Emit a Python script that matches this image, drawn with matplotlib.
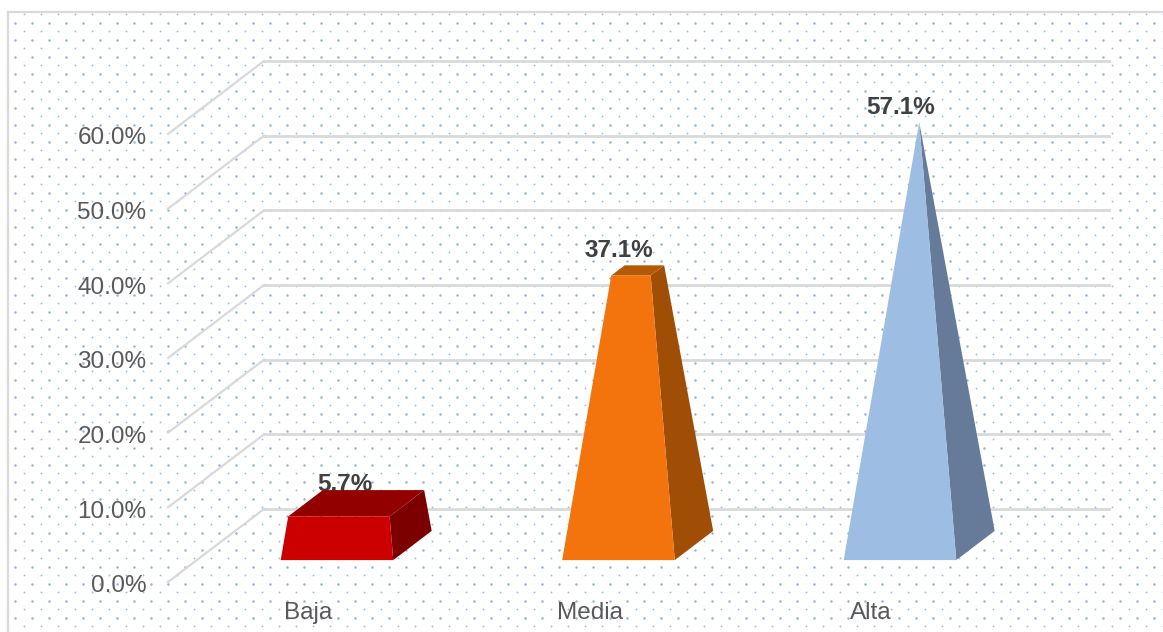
import numpy as np
import matplotlib
matplotlib.use("Agg")
import matplotlib.pyplot as plt
from matplotlib.patches import Polygon, Rectangle
from matplotlib.transforms import ScaledTranslation

plt.rcParams['font.family'] = ['Liberation Sans', 'DejaVu Sans']

# Data
categories = ['Baja', 'Media', 'Alta']
values = [5.7, 37.1, 57.1]
value_labels = ['5.7%', '37.1%', '57.1%']
y_ticks = [0, 10, 20, 30, 40, 50, 60]
y_tick_labels = ['0.0%', '10.0%', '20.0%', '30.0%', '40.0%', '50.0%', '60.0%']

# Colours per bar: front, side, top
front_colors = ['#cc0000', '#f3730d', '#9dbde3']
side_colors = ['#7c0000', '#a04d05', '#667b99']
top_colors = ['#930000', '#b45a05', '#667b99']

# Figure size and 3D look, in pixels
W, H = 1163, 632
PLOT_LEFT, PLOT_RIGHT = 168, 1012.5
PLOT_TOP, PLOT_BOTTOM = 134, 582
DEPTH_X_PX, DEPTH_Y_PX = 96, 73

fig = plt.figure(figsize=(W / 100, H / 100), dpi=100, facecolor='white')

# Background: frame and dotted fill, in pixel coordinates
bg = fig.add_axes([0, 0, 1, 1])
bg.set_xlim(0, W)
bg.set_ylim(H, 0)
bg.axis('off')
bg.add_patch(Rectangle((8, 12), W + 20, H + 20, facecolor='white', edgecolor='#d9d9d9', linewidth=1.6))
gx, gy = np.meshgrid(np.arange(15, W, 17.0), np.arange(22.7, H, 17.0))
bg.scatter(gx.ravel(), gy.ravel(), s=3.2, marker='o', color='#8fb2e2', linewidths=0)
gx, gy = np.meshgrid(np.arange(23.5, W, 17.0), np.arange(14.2, H, 17.0))
bg.scatter(gx.ravel(), gy.ravel(), s=1.8, marker='o', color='#9dbbe6', linewidths=0)

# Chart axes: front plane of the 3D box
ax = fig.add_axes([PLOT_LEFT / W, 1 - PLOT_BOTTOM / H,
                   (PLOT_RIGHT - PLOT_LEFT) / W, (PLOT_BOTTOM - PLOT_TOP) / H])
ax.patch.set_alpha(0)
ax.set_xlim(-0.5, 2.5)
ax.set_ylim(0, 60)
for s in ax.spines.values():
    s.set_visible(False)

ax.set_xticks(range(len(categories)))
ax.set_xticklabels(categories, fontsize=17.5, color='#595959')
ax.set_yticks(y_ticks)
ax.set_yticklabels(y_tick_labels, fontsize=17.5, color='#595959')
ax.tick_params(axis='x', length=0, pad=14.5)
ax.tick_params(axis='y', length=0, pad=15.5)

# Nudge the tick labels to where the original has them
for lab in ax.get_yticklabels():
    lab.set_transform(lab.get_transform() + ScaledTranslation(0, -2 / 100, fig.dpi_scale_trans))
for lab in ax.get_xticklabels():
    lab.set_transform(lab.get_transform() + ScaledTranslation(-0.5 / 100, 0, fig.dpi_scale_trans))

# Depth of the box in data units
depth_x = DEPTH_X_PX / ((PLOT_RIGHT - PLOT_LEFT) / 3)
depth_y = DEPTH_Y_PX / ((PLOT_BOTTOM - PLOT_TOP) / 60)


def project(x, y, depth):
    return (x + depth * depth_x, y + depth * depth_y)


# Gridlines: diagonal on the side wall, horizontal on the back wall
for t in y_ticks:
    p0 = project(-0.5, t, 0)
    p1 = project(-0.5, t, 1)
    p2 = project(2.5, t, 1)
    ax.plot([p0[0], p1[0]], [p0[1], p1[1]], color='#d9d9d9', lw=1.6, clip_on=False, zorder=1)
    ax.plot([p1[0], p2[0]], [p1[1], p2[1]], color='#d9d9d9', lw=2, clip_on=False, zorder=1)

# Pyramids cut off at the bar value; the tallest one comes to a point
HALF_W = 0.2
D_FRONT, D_BACK = 0.30, 0.70
BAR_SCALE = 0.993
label_lift = [7.45, 7.5, 6.9]
label_dx = [0.026, 0, 0]
apex = max(values)
d_mid = (D_FRONT + D_BACK) / 2


def pyramid_point(i, sx, sd, v):
    # sx, sd are -1/+1 corner signs, v is the height along the pyramid
    f = 1 - v / apex
    d = d_mid + sd * (D_BACK - D_FRONT) / 2 * f
    return project(i - 0.002 + sx * HALF_W * f, v * BAR_SCALE, d)


for i, v in enumerate(values):
    fl0, fr0 = pyramid_point(i, -1, -1, 0), pyramid_point(i, 1, -1, 0)
    br0 = pyramid_point(i, 1, 1, 0)
    fl1, fr1 = pyramid_point(i, -1, -1, v), pyramid_point(i, 1, -1, v)
    br1, bl1 = pyramid_point(i, 1, 1, v), pyramid_point(i, -1, 1, v)
    ax.add_patch(Polygon([fr0, br0, br1, fr1], closed=True, facecolor=side_colors[i],
                         edgecolor='none', clip_on=False, zorder=3))
    ax.add_patch(Polygon([fl1, fr1, br1, bl1], closed=True, facecolor=top_colors[i],
                         edgecolor='none', clip_on=False, zorder=3))
    ax.add_patch(Polygon([fl0, fr0, fr1, fl1], closed=True, facecolor=front_colors[i],
                         edgecolor='none', clip_on=False, zorder=4))
    cx = project(i, 0, D_FRONT)[0] + label_dx[i]
    ax.text(cx, v * BAR_SCALE + label_lift[i], value_labels[i], ha='center', va='center',
            fontsize=17.5, fontweight='bold', color='#404040', clip_on=False, zorder=2 if i == 0 else 5)

plt.savefig('out.png', dpi=100)
plt.close()
